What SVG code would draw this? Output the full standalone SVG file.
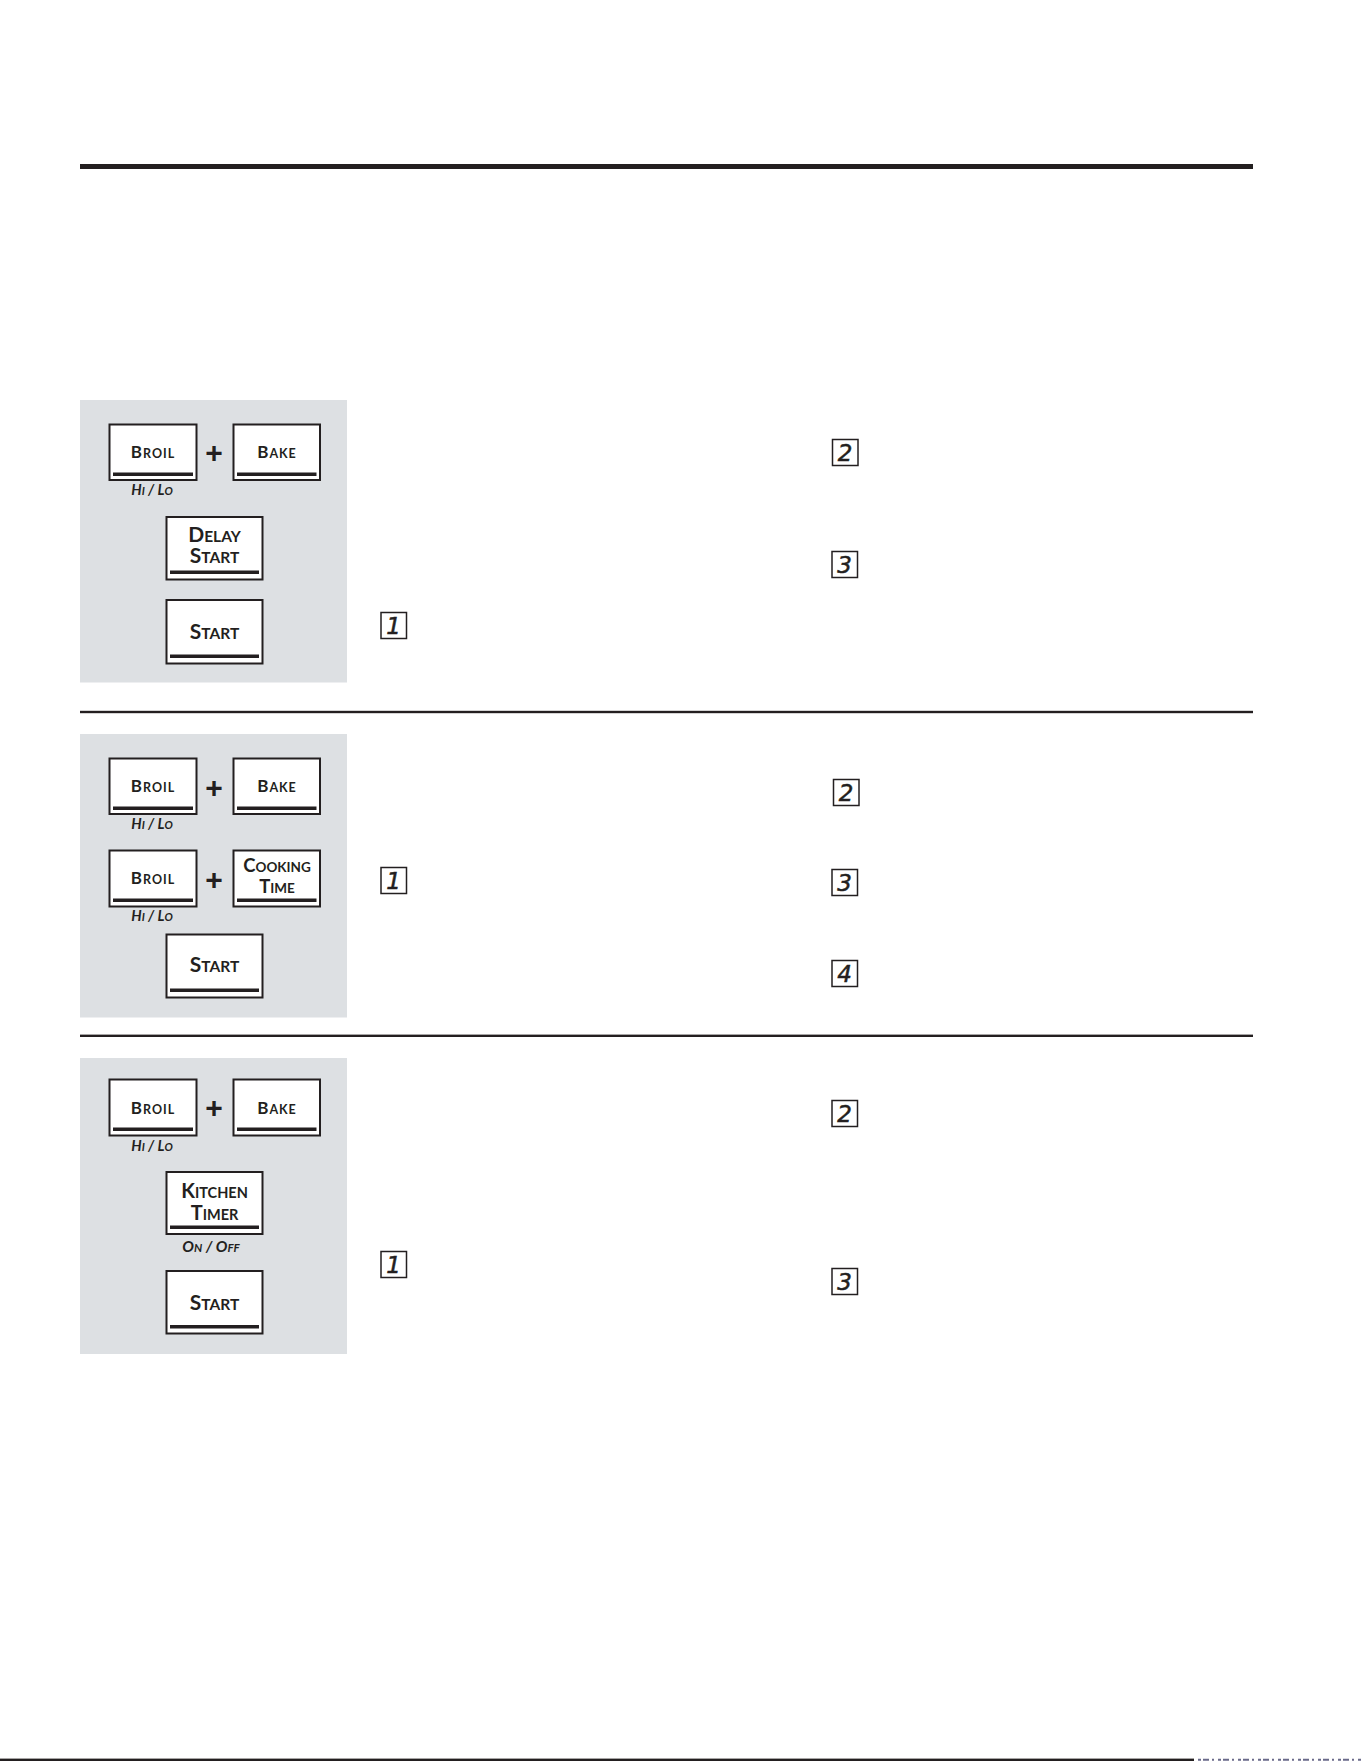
<svg xmlns="http://www.w3.org/2000/svg" width="1361" height="1761" viewBox="0 0 1361 1761">
<style>
.panel{fill:#dde0e3}
.rule{fill:#231f20}
.btn{fill:#ffffff;stroke:#231f20;stroke-width:2}
.ul{fill:#231f20}
.bt{font-family:Lato,"Liberation Sans",sans-serif;font-weight:bold;fill:#231f20;text-anchor:middle}
.sub{font-family:Lato,"Liberation Sans",sans-serif;font-weight:bold;font-style:italic;fill:#231f20;text-anchor:middle}
.plus{font-family:"Liberation Sans",sans-serif;font-weight:bold;font-size:30px;fill:#231f20;text-anchor:middle}
.stepbox{fill:#ffffff;stroke:#231f20;stroke-width:1.5}
.step{font-family:"DejaVu Sans",sans-serif;font-style:italic;font-size:23px;fill:#231f20;stroke:#231f20;stroke-width:0.5;text-anchor:middle}
</style>
<rect width="1361" height="1761" fill="#ffffff"/>
<rect class="rule" x="80" y="164" width="1173" height="5"/>
<rect class="rule" x="80" y="710.8" width="1173" height="2.4"/>
<rect class="rule" x="80" y="1034.6" width="1173" height="2.4"/>
<rect class="rule" x="0" y="1758.6" width="1194" height="2.4"/>
<line x1="1198" y1="1759.8" x2="1361" y2="1759.8" stroke="#6a6a8a" stroke-width="2" stroke-dasharray="3 2 6 3 2 4"/>

<rect class="panel" x="80" y="400" width="267" height="282.5"/>
<rect class="panel" x="80" y="734" width="267" height="283.5"/>
<rect class="panel" x="80" y="1058" width="267" height="296"/>

<g id="connectors">
<text class="plus" x="214" y="462.5">+</text>
<text class="plus" x="214" y="797.5">+</text>
<text class="plus" x="214" y="889.5">+</text>
<text class="plus" x="214" y="1117.5">+</text>
</g>

<!-- Panel 1 -->
<g id="p1-broil">
<rect class="btn" x="109.5" y="424.5" width="87" height="55.5"/>
<rect class="ul" x="113" y="472.5" width="80" height="3.5"/>
<text class="bt" x="153" y="458" letter-spacing="1"><tspan font-size="17">B</tspan><tspan font-size="12.5">ROIL</tspan></text>
<text class="sub" x="152" y="494.5"><tspan font-size="14.5">H</tspan><tspan font-size="11">I</tspan><tspan font-size="14.5"> / L</tspan><tspan font-size="11">O</tspan></text>
</g>
<g id="p1-bake">
<rect class="btn" x="233.5" y="424.5" width="86.5" height="55.5"/>
<rect class="ul" x="237" y="472.5" width="79.5" height="3.5"/>
<text class="bt" x="277" y="458" letter-spacing="1"><tspan font-size="17">B</tspan><tspan font-size="12.5">AKE</tspan></text>
</g>
<g id="p1-delay-start">
<rect class="btn" x="166.5" y="517" width="96" height="62.5"/>
<rect class="ul" x="170" y="570.5" width="89" height="3.5"/>
<text class="bt" x="214.5" y="541.5"><tspan font-size="21">D</tspan><tspan font-size="15.5">ELAY</tspan></text>
<text class="bt" x="214.5" y="563"><tspan font-size="21">S</tspan><tspan font-size="15.5">TART</tspan></text>
</g>
<g id="p1-start">
<rect class="btn" x="166.5" y="600" width="96" height="63.5"/>
<rect class="ul" x="170" y="654.5" width="89" height="3.5"/>
<text class="bt" x="214.5" y="638.5"><tspan font-size="21">S</tspan><tspan font-size="15.5">TART</tspan></text>
</g>
<g id="p1-step1"><rect class="stepbox" x="381" y="612.5" width="25.5" height="26"/><text class="step" x="393.5" y="634">1</text></g>
<g id="p1-step2"><rect class="stepbox" x="832.5" y="439.5" width="25.5" height="26"/><text class="step" x="845" y="461">2</text></g>
<g id="p1-step3"><rect class="stepbox" x="832" y="551.5" width="25.5" height="26"/><text class="step" x="844.5" y="573">3</text></g>

<!-- Panel 2 -->
<g id="p2-broil">
<rect class="btn" x="109.5" y="758.5" width="87" height="55.5"/>
<rect class="ul" x="113" y="806.5" width="80" height="3.5"/>
<text class="bt" x="153" y="792" letter-spacing="1"><tspan font-size="17">B</tspan><tspan font-size="12.5">ROIL</tspan></text>
<text class="sub" x="152" y="828.5"><tspan font-size="14.5">H</tspan><tspan font-size="11">I</tspan><tspan font-size="14.5"> / L</tspan><tspan font-size="11">O</tspan></text>
</g>
<g id="p2-bake">
<rect class="btn" x="233.5" y="758.5" width="86.5" height="55.5"/>
<rect class="ul" x="237" y="806.5" width="79.5" height="3.5"/>
<text class="bt" x="277" y="792" letter-spacing="1"><tspan font-size="17">B</tspan><tspan font-size="12.5">AKE</tspan></text>
</g>
<g id="p2-broil-2">
<rect class="btn" x="109.5" y="850.5" width="87" height="56"/>
<rect class="ul" x="113" y="898.5" width="80" height="3.5"/>
<text class="bt" x="153" y="884.3" letter-spacing="1"><tspan font-size="17">B</tspan><tspan font-size="12.5">ROIL</tspan></text>
<text class="sub" x="152" y="921"><tspan font-size="14.5">H</tspan><tspan font-size="11">I</tspan><tspan font-size="14.5"> / L</tspan><tspan font-size="11">O</tspan></text>
</g>
<g id="p2-cooking-time">
<rect class="btn" x="233.5" y="850.5" width="86.5" height="56"/>
<rect class="ul" x="237" y="898.5" width="79.5" height="3.5"/>
<text class="bt" x="277" y="871.5"><tspan font-size="18.5">C</tspan><tspan font-size="13.5">OOKING</tspan></text>
<text class="bt" x="277" y="893"><tspan font-size="18.5">T</tspan><tspan font-size="13.5">IME</tspan></text>
</g>
<g id="p2-start">
<rect class="btn" x="166.5" y="934.5" width="96" height="63"/>
<rect class="ul" x="170" y="988.5" width="89" height="3.5"/>
<text class="bt" x="214.5" y="972"><tspan font-size="21">S</tspan><tspan font-size="15.5">TART</tspan></text>
</g>
<g id="p2-step1"><rect class="stepbox" x="381" y="867.5" width="25.5" height="26"/><text class="step" x="393.5" y="889">1</text></g>
<g id="p2-step2"><rect class="stepbox" x="833.5" y="779.5" width="25.5" height="26"/><text class="step" x="846" y="801">2</text></g>
<g id="p2-step3"><rect class="stepbox" x="832" y="869.5" width="25.5" height="26"/><text class="step" x="844.5" y="891">3</text></g>
<g id="p2-step4"><rect class="stepbox" x="832" y="960.5" width="25.5" height="26"/><text class="step" x="844.5" y="982">4</text></g>

<!-- Panel 3 -->
<g id="p3-broil">
<rect class="btn" x="109.5" y="1079.5" width="87" height="56"/>
<rect class="ul" x="113" y="1127.5" width="80" height="3.5"/>
<text class="bt" x="153" y="1113.5" letter-spacing="1"><tspan font-size="17">B</tspan><tspan font-size="12.5">ROIL</tspan></text>
<text class="sub" x="152" y="1150.5"><tspan font-size="14.5">H</tspan><tspan font-size="11">I</tspan><tspan font-size="14.5"> / L</tspan><tspan font-size="11">O</tspan></text>
</g>
<g id="p3-bake">
<rect class="btn" x="233.5" y="1079.5" width="86.5" height="56"/>
<rect class="ul" x="237" y="1127.5" width="79.5" height="3.5"/>
<text class="bt" x="277" y="1113.5" letter-spacing="1"><tspan font-size="17">B</tspan><tspan font-size="12.5">AKE</tspan></text>
</g>
<g id="p3-kitchen-timer">
<rect class="btn" x="166.5" y="1172" width="96" height="62"/>
<rect class="ul" x="170" y="1225.5" width="89" height="3.5"/>
<text class="bt" x="214.5" y="1198"><tspan font-size="20">K</tspan><tspan font-size="14.5">ITCHEN</tspan></text>
<text class="bt" x="214.5" y="1220"><tspan font-size="20">T</tspan><tspan font-size="14.5">IMER</tspan></text>
<text class="sub" x="211" y="1252"><tspan font-size="15.5">O</tspan><tspan font-size="11.5">N</tspan><tspan font-size="15.5"> / O</tspan><tspan font-size="11.5">FF</tspan></text>
</g>
<g id="p3-start">
<rect class="btn" x="166.5" y="1271" width="96" height="62.5"/>
<rect class="ul" x="170" y="1325" width="89" height="3.5"/>
<text class="bt" x="214.5" y="1309.5"><tspan font-size="21">S</tspan><tspan font-size="15.5">TART</tspan></text>
</g>
<g id="p3-step1"><rect class="stepbox" x="381" y="1251.5" width="25.5" height="26"/><text class="step" x="393.5" y="1273">1</text></g>
<g id="p3-step2"><rect class="stepbox" x="832" y="1100.5" width="25.5" height="26"/><text class="step" x="844.5" y="1122">2</text></g>
<g id="p3-step3"><rect class="stepbox" x="832" y="1268.5" width="25.5" height="26"/><text class="step" x="844.5" y="1290">3</text></g>
</svg>
